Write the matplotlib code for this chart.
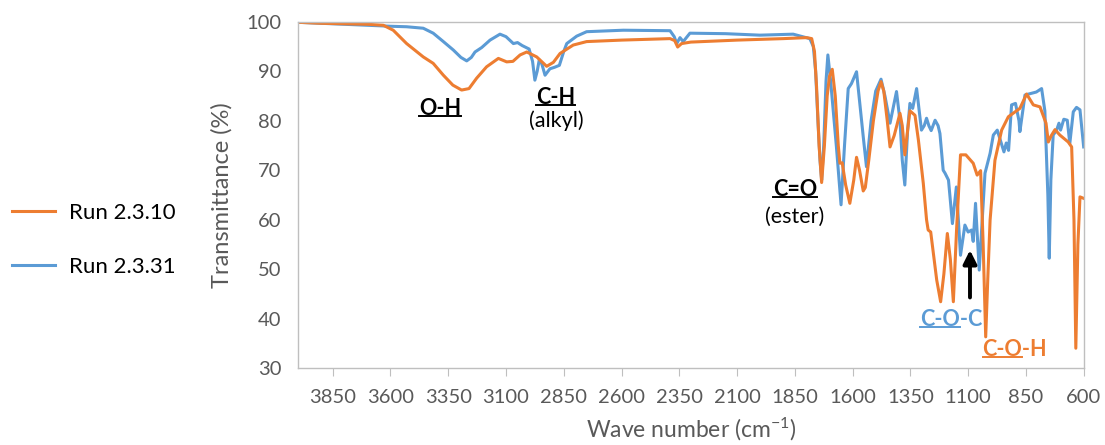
import matplotlib.pyplot as plt
from matplotlib.lines import Line2D

plt.rcParams['font.family'] = ['Lato', 'DejaVu Sans']
plt.rcParams['mathtext.default'] = 'regular'

# Run 2.3.10 (orange)
wn_a = [4000, 3900, 3800, 3700, 3631, 3588, 3530, 3458, 3415, 3371, 3330, 3292, 3260, 3227, 3184,
        3133, 3097, 3070, 3039, 3010, 2967, 2924, 2895, 2866, 2809, 2751, 2600, 2390, 2370, 2357,
        2340, 2300, 2100, 1900, 1799, 1777, 1765, 1756, 1745, 1734, 1722, 1710, 1700, 1688, 1675,
        1662, 1655, 1645, 1630, 1612, 1595, 1583, 1570, 1554, 1545, 1530, 1510, 1490, 1477, 1465,
        1450, 1438, 1420, 1395, 1385, 1374, 1362, 1352, 1330, 1315, 1294, 1280, 1273, 1262, 1236,
        1219, 1205, 1190, 1177, 1164, 1150, 1133, 1110, 1078, 1061, 1046, 1035, 1024, 1015, 1005,
        984, 955, 926, 876, 847, 818, 789, 763, 753, 740, 724, 703, 667, 652, 642, 634, 625, 616, 600]
t_a = [99.9, 99.7, 99.6, 99.5, 99.3, 98.3, 95.6, 92.9, 91.6, 89.2, 87.2, 86.2, 86.5, 88.6, 90.9,
       92.6, 91.9, 92.0, 93.3, 93.9, 92.9, 91.0, 91.8, 93.6, 95.3, 96.0, 96.3, 96.6, 96.2, 94.9,
       95.6, 95.9, 96.3, 96.6, 96.8, 96.6, 94.0, 86.9, 75.0, 67.5, 75.0, 85.0, 89.0, 90.4, 85.0,
       75.0, 71.4, 71.5, 67.0, 63.3, 68.0, 72.6, 70.0, 65.8, 66.5, 72.0, 80.0, 86.0, 87.9, 86.0,
       80.0, 74.7, 77.0, 81.5, 79.0, 73.1, 78.0, 82.0, 81.1, 76.0, 67.3, 60.0, 57.9, 57.5, 47.8,
       43.4, 49.0, 57.2, 52.0, 43.4, 58.0, 73.1, 73.1, 71.4, 69.0, 69.9, 55.0, 36.3, 48.0, 59.9,
       72.0, 78.1, 80.8, 82.5, 85.4, 83.2, 82.8, 79.5, 75.7, 77.0, 78.2, 77.1, 75.7, 74.7, 60.0,
       34.0, 55.0, 64.6, 64.3]

# Run 2.3.31 (blue)
wn_b = [4000, 3900, 3800, 3700, 3600, 3530, 3458, 3415, 3371, 3328, 3295, 3270, 3250, 3234, 3205,
        3169, 3126, 3100, 3068, 3050, 3030, 3000, 2985, 2975, 2965, 2956, 2945, 2931, 2910, 2890,
        2869, 2850, 2837, 2794, 2751, 2592, 2390, 2372, 2361, 2347, 2333, 2304, 2150, 2001, 1857,
        1785, 1770, 1760, 1750, 1741, 1734, 1725, 1715, 1707, 1695, 1680, 1670, 1650, 1635, 1619,
        1605, 1583, 1570, 1554, 1540, 1520, 1500, 1477, 1460, 1438, 1410, 1395, 1385, 1374, 1362,
        1352, 1340, 1323, 1312, 1302, 1290, 1280, 1270, 1260, 1243, 1230, 1222, 1208, 1200, 1185,
        1168, 1151, 1133, 1114, 1100, 1085, 1078, 1068, 1052, 1027, 1005, 991, 974, 960, 945,
        935, 925, 912, 895, 880, 876, 854, 830, 805, 782, 768, 755, 749, 742, 732, 717, 707, 700,
        686, 671, 660, 645, 631, 616, 600]
t_b = [99.9, 99.7, 99.5, 99.3, 99.1, 99.0, 98.7, 97.7, 96.0, 94.3, 92.8, 92.1, 92.8, 93.9, 94.8,
       96.3, 97.5, 97.0, 95.6, 95.8, 95.2, 94.5, 92.0, 88.2, 90.0, 92.3, 91.5, 89.2, 90.5, 90.8,
       91.2, 94.0, 95.6, 97.1, 98.0, 98.3, 98.2, 97.0, 95.6, 96.8, 96.0, 97.7, 97.6, 97.3, 97.5,
       96.6, 95.0, 90.0, 80.0, 72.0, 68.0, 75.0, 88.0, 93.3, 88.0, 80.0, 74.7, 63.0, 75.0, 86.5,
       87.5, 89.9, 84.0, 76.8, 70.7, 80.0, 86.0, 88.4, 85.0, 79.5, 85.9, 80.0, 72.0, 67.0, 78.0,
       83.5, 82.5, 86.5, 82.0, 78.1, 79.0, 80.5, 79.0, 78.0, 80.1, 79.0, 77.4, 70.0, 69.4, 68.0,
       59.2, 66.6, 52.8, 58.9, 57.5, 57.9, 55.6, 63.3, 49.8, 69.4, 73.4, 77.1, 78.1, 76.0, 73.7,
       75.5, 74.0, 83.2, 83.5, 80.0, 77.8, 85.2, 85.5, 85.8, 86.5, 82.0, 65.0, 52.2, 68.0, 77.1,
       78.1, 79.5, 78.1, 80.3, 80.1, 75.4, 81.8, 82.7, 82.2, 74.7]

xticks = [3850, 3600, 3350, 3100, 2850, 2600, 2350, 2100, 1850, 1600, 1350, 1100, 850, 600]
yticks = [30, 40, 50, 60, 70, 80, 90, 100]

orange = '#ED7D31'
blue = '#5B9BD5'
grey = '#595959'
frame = '#BFBFBF'

fig = plt.figure(figsize=(11.05, 4.45), dpi=100)
ax = fig.add_axes([0.2697, 0.173, 0.711, 0.778])

lb, = ax.plot(wn_b, t_b, color=blue, lw=2.2, label='Run 2.3.31')
la, = ax.plot(wn_a, t_a, color=orange, lw=2.2, label='Run 2.3.10')

ax.set_xlim(4000, 600)
ax.set_ylim(30, 100)
ax.set_xticks(xticks)
ax.set_yticks(yticks)
ax.tick_params(axis='x', length=6, color=frame, labelsize=14.5, labelcolor=grey, pad=9)
ax.tick_params(axis='y', length=0, labelsize=14.5, labelcolor=grey, pad=12)
for s in ax.spines.values():
    s.set_color(frame)
    s.set_linewidth(1)

ax.set_xlabel('Wave number (cm$^{-1}$)', fontsize=16.5, color=grey, labelpad=7)
ax.set_ylabel('Transmittance (%)', fontsize=17, color=grey, labelpad=10)

fig.legend(handles=[la, lb], loc='center left', bbox_to_anchor=(0.0109, 0.461), frameon=False,
           fontsize=16, handlelength=1.95, handletextpad=0.6, labelspacing=1.5,
           borderpad=0, borderaxespad=0)

# band labels: (x, y, text, underlined part, colour)
labels = [
    (3386, 82.5, 'O-H', 'O-H', 'black'),
    (2884, 84.6, 'C-H', 'C-H', 'black'),
    (1849, 66.0, 'C=O', 'C=O', 'black'),
    (1174, 39.9, 'C-O-C', 'C-O', blue),
    (898, 33.8, 'C-O-H', 'C-O', orange),
]
texts = []
for x, y, s, u, c in labels:
    t = ax.text(x, y, s, ha='center', va='center', fontsize=15.5, fontweight='bold', color=c)
    texts.append((t, u, c))
ax.text(2884, 80.1, '(alkyl)', ha='center', va='center', fontsize=15.5, color='black')
ax.text(1849, 60.5, '(ester)', ha='center', va='center', fontsize=15.5, color='black')

ax.annotate('', xy=(1092, 54.4), xytext=(1092, 43.7),
            arrowprops=dict(arrowstyle='-|>,head_width=0.4,head_length=0.8', color='black', lw=2.8))

fig.canvas.draw()
r = fig.canvas.get_renderer()
inv = fig.transFigure.inverted()
for t, u, c in texts:
    bb = t.get_window_extent(r)
    tmp = ax.text(0, 0, u, fontsize=15.5, fontweight='bold')
    w = tmp.get_window_extent(r).width
    tmp.remove()
    p0 = inv.transform((bb.x0, bb.y0 + 3))
    p1 = inv.transform((bb.x0 + w, bb.y0 + 3))
    fig.add_artist(Line2D([p0[0], p1[0]], [p0[1], p1[1]], color=c, lw=1.4))

fig.savefig('out.png', dpi=100)
